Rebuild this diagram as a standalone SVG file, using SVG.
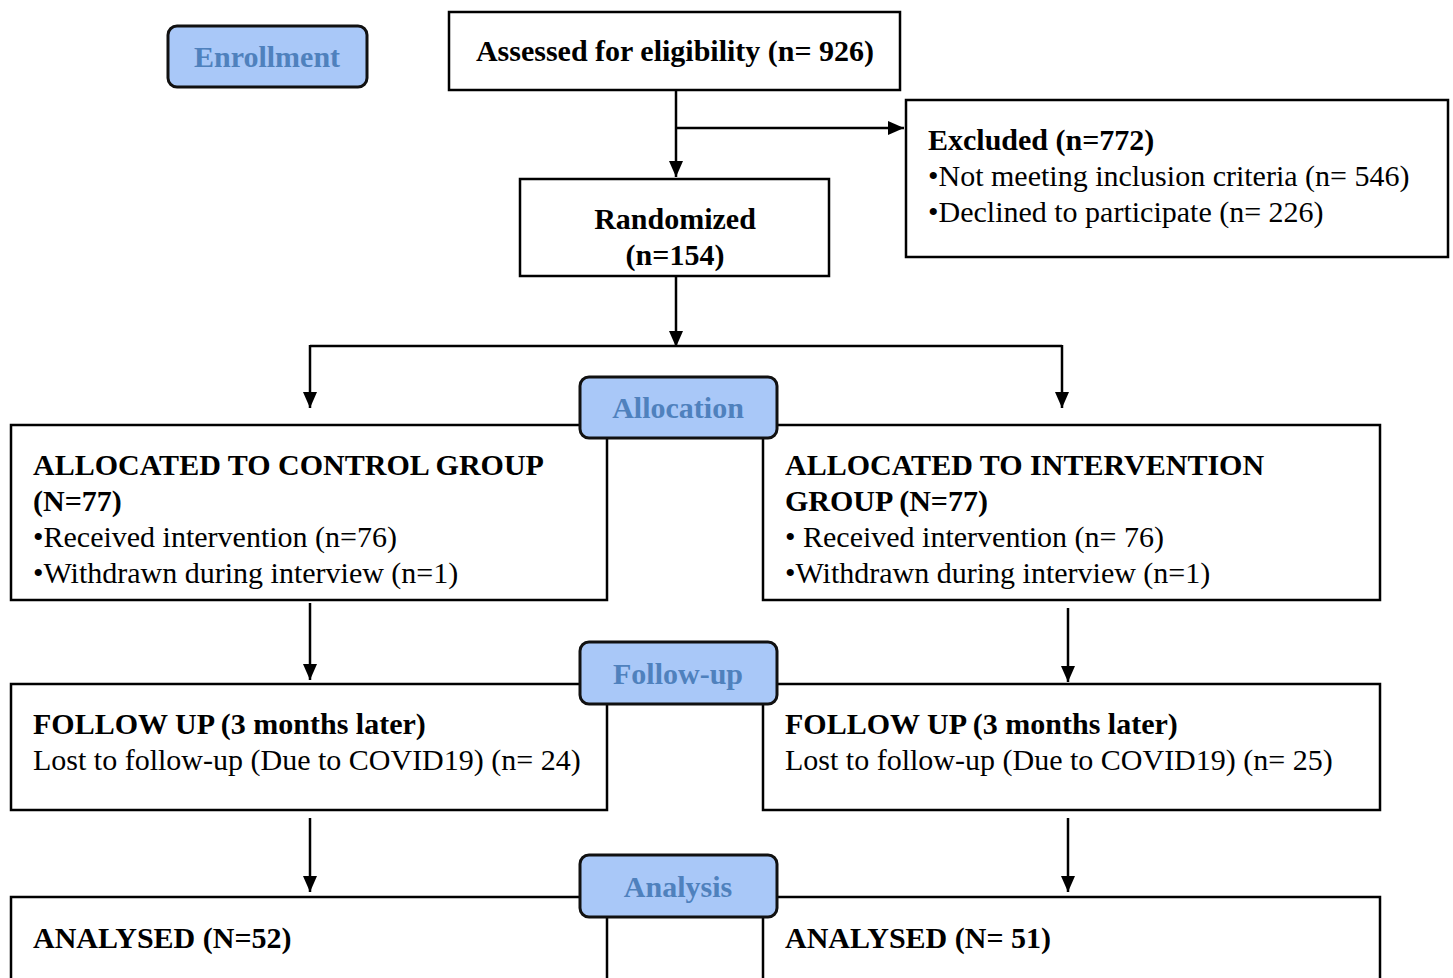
<svg xmlns="http://www.w3.org/2000/svg" width="1453" height="978" viewBox="0 0 1453 978">
<style>
.box{fill:#fff;stroke:#000;stroke-width:2.5}
.stage{fill:#a9c8f8;stroke:#111;stroke-width:3}
.st{font-family:"Liberation Serif",serif;font-weight:bold;font-size:30px;fill:#4f81bd;text-anchor:middle}
.t{font-family:"Liberation Serif",serif;font-size:30px;fill:#000}
.b{font-weight:bold}
.c{text-anchor:middle}
.ln{stroke:#000;stroke-width:2.5;fill:none}
</style>
<defs>
<marker id="a" viewBox="0 0 16 16" refX="16" refY="8" markerWidth="16" markerHeight="16" markerUnits="userSpaceOnUse" orient="auto">
<path d="M0,1 L16,8 L0,15 z" fill="#000"/>
</marker>
</defs>
<rect width="1453" height="978" fill="#fff"/>
<g id="connectors">
<path class="ln" d="M676,90 V177" marker-end="url(#a)"/>
<path class="ln" d="M676,128 H904" marker-end="url(#a)"/>
<path class="ln" d="M676,276 V347" marker-end="url(#a)"/>
<path class="ln" d="M310,346 H1062"/>
<path class="ln" d="M310,345 V408" marker-end="url(#a)"/>
<path class="ln" d="M1062,345 V408" marker-end="url(#a)"/>
<path class="ln" d="M310,603 V680" marker-end="url(#a)"/>
<path class="ln" d="M1068,608 V682" marker-end="url(#a)"/>
<path class="ln" d="M310,818 V892" marker-end="url(#a)"/>
<path class="ln" d="M1068,818 V892" marker-end="url(#a)"/>
</g>
<g id="enrollment">
<rect class="stage" x="168" y="26" width="199" height="61" rx="9"/>
<text class="st" x="267" y="67">Enrollment</text>
</g>
<g id="assessed">
<rect class="box" x="449" y="12" width="451" height="78"/>
<text class="t b c" x="675" y="61">Assessed for eligibility (n= 926)</text>
</g>
<g id="excluded">
<rect class="box" x="906" y="100" width="542" height="157"/>
<text class="t b" x="928" y="150">Excluded (n=772)</text>
<text class="t" x="928" y="186">•Not meeting inclusion criteria (n= 546)</text>
<text class="t" x="928" y="222">•Declined to participate (n= 226)</text>
</g>
<g id="randomized">
<rect class="box" x="520" y="179" width="309" height="97"/>
<text class="t b c" x="675" y="229">Randomized</text>
<text class="t b c" x="675" y="265">(n=154)</text>
</g>
<g id="control-alloc">
<rect class="box" x="11" y="425" width="596" height="175"/>
<text class="t b" x="33" y="475">ALLOCATED TO CONTROL GROUP</text>
<text class="t b" x="33" y="511">(N=77)</text>
<text class="t" x="33" y="547">•Received intervention (n=76)</text>
<text class="t" x="33" y="583">•Withdrawn during interview (n=1)</text>
</g>
<g id="intervention-alloc">
<rect class="box" x="763" y="425" width="617" height="175"/>
<text class="t b" x="785" y="475">ALLOCATED TO INTERVENTION</text>
<text class="t b" x="785" y="511">GROUP (N=77)</text>
<text class="t" x="785" y="547">• Received intervention (n= 76)</text>
<text class="t" x="785" y="583">•Withdrawn during interview (n=1)</text>
</g>
<g id="allocation">
<rect class="stage" x="580" y="377" width="197" height="61" rx="9"/>
<text class="st" x="678" y="418">Allocation</text>
</g>
<g id="control-follow">
<rect class="box" x="11" y="684" width="596" height="126"/>
<text class="t b" x="33" y="734">FOLLOW UP (3 months later)</text>
<text class="t" x="33" y="770">Lost to follow-up (Due to COVID19) (n= 24)</text>
</g>
<g id="intervention-follow">
<rect class="box" x="763" y="684" width="617" height="126"/>
<text class="t b" x="785" y="734">FOLLOW UP (3 months later)</text>
<text class="t" x="785" y="770">Lost to follow-up (Due to COVID19) (n= 25)</text>
</g>
<g id="followup">
<rect class="stage" x="580" y="642" width="197" height="62" rx="9"/>
<text class="st" x="678" y="684">Follow-up</text>
</g>
<g id="control-analysed">
<rect class="box" x="11" y="897" width="596" height="90"/>
<text class="t b" x="33" y="948">ANALYSED (N=52)</text>
</g>
<g id="intervention-analysed">
<rect class="box" x="763" y="897" width="617" height="90"/>
<text class="t b" x="785" y="948">ANALYSED (N= 51)</text>
</g>
<g id="analysis">
<rect class="stage" x="580" y="855" width="197" height="62" rx="9"/>
<text class="st" x="678" y="897">Analysis</text>
</g>
</svg>
